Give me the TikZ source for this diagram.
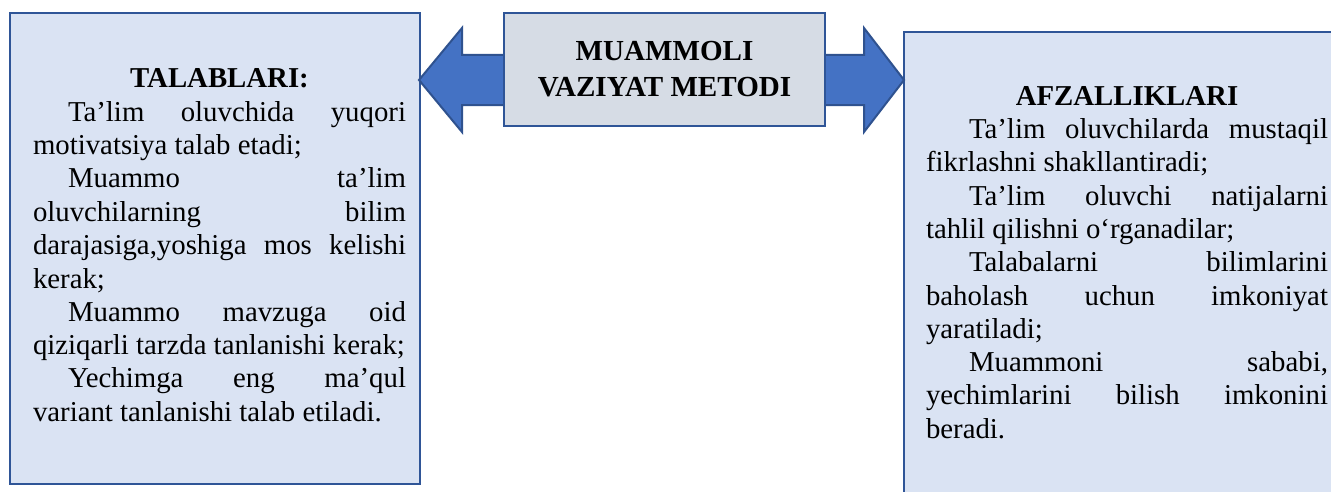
\documentclass[tikz,border=0pt]{standalone}
\usepackage{fontspec}
\setmainfont{Liberation Serif}
\usetikzlibrary{fit}
\definecolor{panelfill}{HTML}{DAE3F3}
\definecolor{panelline}{HTML}{2F5597}
\definecolor{metodfill}{HTML}{D6DCE5}
\definecolor{arrowfill}{HTML}{4472C4}
\definecolor{arrowline}{HTML}{2F528F}
\newcommand{\sarlavha}[1]{{\centering\bfseries #1\par}}

\begin{document}
\begin{tikzpicture}[x=0.75pt, y=-0.75pt, line width=1.5pt,
    panel/.style = {draw=panelline, fill=panelfill, inner sep=0pt},
    metodbox/.style = {draw=panelline, fill=metodfill, align=center, font=\fontsize{21.8}{27}\selectfont\bfseries},
    body/.style = {inner sep=0pt, anchor=base west, align=justify, font=\fontsize{21.6}{25}\selectfont,
        execute at begin node={\tolerance=10000\hbadness=10000\hyphenpenalty=10000}},
    bigarrow/.style = {draw=arrowline, fill=arrowfill, line join=miter}]
    \useasboundingbox (0,0) rectangle (1331,492);

    % Boxes
    \node[panel, fit={(10,13) (420,484)}] (talablar) {};
    \node[panel, fit={(904,32) (1350,510)}] (afzallik) {};

    % Double arrow
    \coordinate (uchL) at (419,80);
    \coordinate (uchR) at (904,80);
    \draw[bigarrow] (uchL) -- (462,28) -- (462,55) -- (864,55) -- (864,28) -- (uchR)
        -- (864,132) -- (864,105) -- (462,105) -- (462,132) -- cycle;

    \node[metodbox, minimum width=240.75pt, minimum height=84.75pt] (metod) at (664.5,69.5)
        {MUAMMOLI\\VAZIYAT METODI};

    % Texts
    \node[body, text width=279.75pt, execute at begin node={\parindent=26.25pt}] (talablarmatn) at (32,88) {%
        \sarlavha{TALABLARI:}
        Ta’lim oluvchida yuqori\linebreak motivatsiya talab etadi;\par
        Muammo ta’lim\linebreak oluvchilarning bilim\linebreak darajasiga,yoshiga mos kelishi\linebreak kerak;\par
        Muammo mavzuga oid\linebreak qiziqarli tarzda tanlanishi kerak;\par
        Yechimga eng ma’qul\linebreak variant tanlanishi talab etiladi.\par};
    \node[body, text width=301.5pt, execute at begin node={\parindent=32.25pt}] (afzallikmatn) at (925,105) {%
        \sarlavha{AFZALLIKLARI}
        Ta’lim oluvchilarda mustaqil\linebreak fikrlashni shakllantiradi;\par
        Ta’lim oluvchi natijalarni\linebreak tahlil qilishni o‘rganadilar;\par
        Talabalarni bilimlarini\linebreak baholash uchun imkoniyat\linebreak yaratiladi;\par
        Muammoni sababi,\linebreak yechimlarini bilish imkonini\linebreak beradi.\par};
\end{tikzpicture}
\end{document}
